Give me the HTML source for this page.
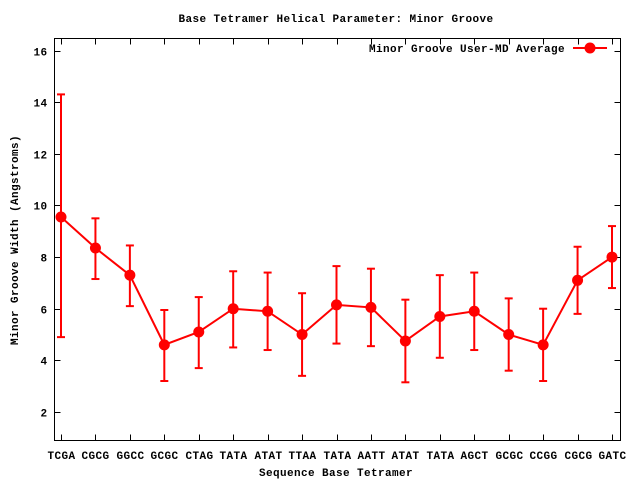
<!DOCTYPE html>
<html><head><meta charset="utf-8"><style>
body{margin:0;background:#fff}
svg text{font-family:"Liberation Mono",monospace;font-weight:bold;font-size:11px;letter-spacing:0.4px;fill:#000}
</style></head><body>
<svg width="640" height="480" viewBox="0 0 640 480">
<rect width="640" height="480" fill="#fff"/>
<text x="336" y="22" text-anchor="middle">Base Tetramer Helical Parameter: Minor Groove</text>
<text x="336" y="476" text-anchor="middle">Sequence Base Tetramer</text>
<text transform="translate(18,240) rotate(-90)" text-anchor="middle">Minor Groove Width (Angstroms)</text>
<g id="axes"></g>
<g id="series"></g>
<g>
<text x="565" y="52" text-anchor="end">Minor Groove User-MD Average</text>
<line x1="573" y1="48" x2="607" y2="48" stroke="#f00" stroke-width="2"/>
<circle cx="590" cy="48" r="5.5" fill="#f00"/>
</g>
</svg>
<script>
const categories=["TCGA","CGCG","GGCC","GCGC","CTAG","TATA","ATAT","TTAA","TATA","AATT","ATAT","TATA","AGCT","GCGC","CCGG","CGCG","GATC"];
const means=[9.55,8.35,7.3,4.6,5.1,6.0,5.9,5.0,6.15,6.05,4.75,5.7,5.9,5.0,4.6,7.1,8.0];
const lows=[4.9,7.15,6.1,3.2,3.7,4.5,4.4,3.4,4.65,4.55,3.15,4.1,4.4,3.6,3.2,5.8,6.8];
const highs=[14.3,9.5,8.45,5.95,6.45,7.45,7.4,6.6,7.65,7.55,6.35,7.3,7.4,6.4,6.0,8.4,9.2];
const yTicks=[2,4,6,8,10,12,14,16];
const NS="http://www.w3.org/2000/svg";
const L=54.5,R=620.5,T=38.5,B=440.5;
function X(i){return 61+i*(612-61)/(categories.length-1);}
function Y(v){return 412-(v-2)*(412-50.5)/14;}
function mk(tag,attrs,parent){const e=document.createElementNS(NS,tag);for(const k in attrs)e.setAttribute(k,attrs[k]);parent.appendChild(e);return e;}
const ax=document.getElementById('axes'),sr=document.getElementById('series');
const frame=mk('rect',{x:L,y:T,width:R-L,height:B-T,fill:'none',stroke:'#000','stroke-width':1},ax);


yTicks.forEach(v=>{const y=Math.round(Y(v))+0.5;
 const t=mk('line',{x1:L,y1:y,x2:L+6,y2:y,stroke:'#000'},ax);
 
 
 const t2=mk('line',{x1:R,y1:y,x2:R-6,y2:y,stroke:'#000'},ax);
 
 
 const l=mk('text',{x:L-7,y:y+4,'text-anchor':'end'},ax);l.textContent=v;
 
 
});
categories.forEach((c,i)=>{const x=Math.round(X(i))+0.5;
 const t=mk('line',{x1:x,y1:B,x2:x,y2:B-6,stroke:'#000'},ax);
 
 
 const t2=mk('line',{x1:x,y1:T,x2:x,y2:T+6,stroke:'#000'},ax);
 
 
 const l=mk('text',{x:x,y:459,'text-anchor':'middle'},ax);l.textContent=c;
 
 
});
const line=mk('polyline',{points:means.map((v,i)=>X(i)+','+Y(v)).join(' '),fill:'none',stroke:'#f00','stroke-width':2},sr);


means.forEach((v,i)=>{const x=X(i);
 const g=mk('g',{stroke:'#f00','stroke-width':2},sr);
 
 
 mk('line',{x1:x,y1:Y(lows[i]),x2:x,y2:Y(highs[i])},g);
 mk('line',{x1:x-4,y1:Y(lows[i]),x2:x+4,y2:Y(lows[i])},g);
 mk('line',{x1:x-4,y1:Y(highs[i]),x2:x+4,y2:Y(highs[i])},g);
 const c=mk('circle',{cx:x,cy:Y(v),r:5.5,fill:'#f00'},sr);
 
 
});
</script>
</body></html>
